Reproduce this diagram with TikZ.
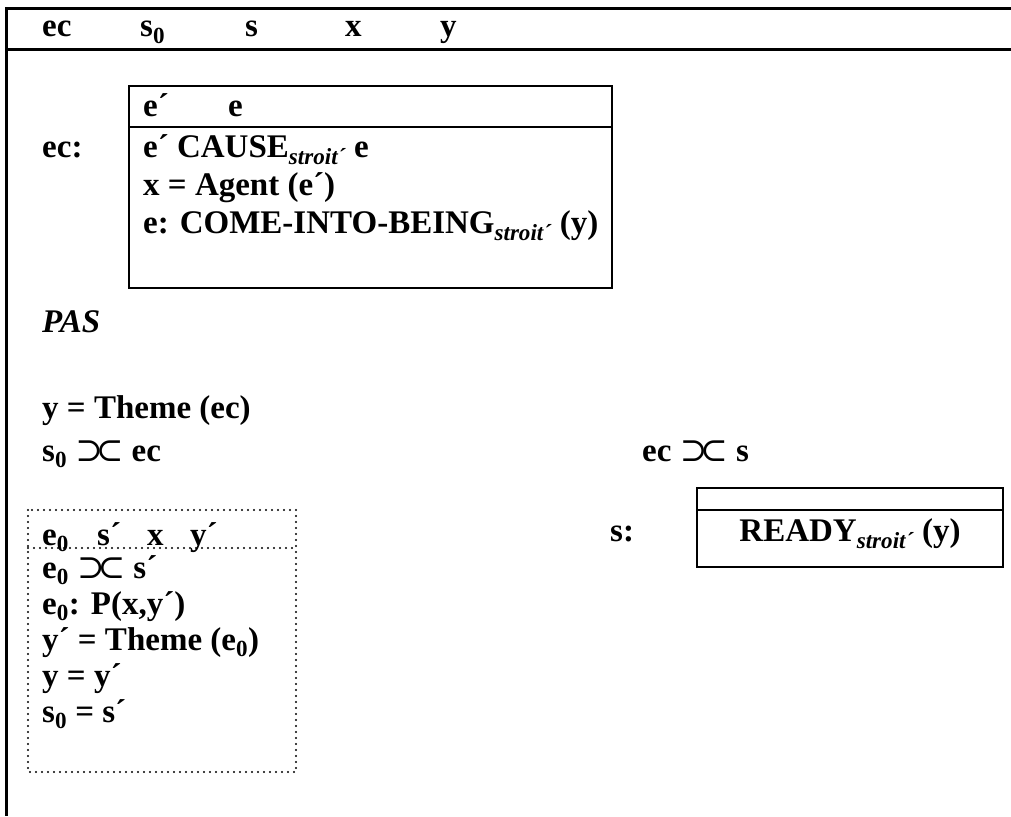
\documentclass[tikz,border=0pt]{standalone}
\usepackage{fontspec}
\setmainfont{Liberation Serif}
\newfontfamily\symfont{DejaVu Serif}
\usepackage{tikz}
\usetikzlibrary{positioning}

\newcommand{\abut}{{\symfont\mdseries ⊃\kern-0.22em⊂}}
\newcommand{\strt}{\textsubscript{\itshape stroit´}}
\newcommand{\zr}{\textsubscript{0}}

\begin{document}
\begin{tikzpicture}[
    x=1pt, y=-1pt,
    txt/.style={anchor=base west, inner sep=0pt, font=\fontsize{33}{38}\selectfont\bfseries},
    frame/.style={line width=3pt},
    drsbox/.style={line width=2.4pt},
    dotbox/.style={line width=2.4pt, line cap=round, dash pattern=on 0pt off 6pt}
]
\useasboundingbox (0,0) rectangle (1011,816);

% outer box, open to the right and below
\draw[frame] (1011,9) -- (6,9) -- (6,816);
\draw[frame] (6,50) -- (1011,50);
\node[txt] (uec) at (42,37) {ec};
\node[txt] (us0) at (140,37) {s\zr};
\node[txt] (us) at (245,37) {s};
\node[txt] (ux) at (345,37) {x};
\node[txt] (uy) at (440,37) {y};

% ec box
\node[txt] (eclab) at (42,157) {ec:};
\draw[drsbox] (129,86) rectangle (612,288);
\draw[drsbox] (129,127) -- (612,127);
\node[txt] (ecu1) at (143,116) {e´};
\node[txt] (ecu2) at (228,116) {e};
\node[txt] (ec1) at (143,157) {e´ CAUSE\strt{} e};
\node[txt] (ec2) at (143,195) {x = Agent (e´)};
\node[txt] (ec3) at (143,233) {e: COME-INTO-BEING\strt{} (y)};

\node[txt, font=\fontsize{33}{38}\selectfont\bfseries\itshape] (pas) at (42,332) {PAS};
\node[txt] (theme) at (42,418) {y = Theme (ec)};
\node[txt] (s0ec) at (42,461) {s\zr{} \abut{} ec};
\node[txt] (ecs) at (642,461) {ec \abut{} s};

% s box
\node[txt] (slab) at (610,541) {s:};
\draw[drsbox] (697,488) rectangle (1003,567);
\draw[drsbox] (697,510) -- (1003,510);
\node[txt, anchor=base] (ready) at (850,541) {READY\strt{} (y)};

% dotted box
\draw[dotbox] (28,510) rectangle (296,772);
\draw[dotbox] (28,548) -- (296,548);
\node[txt] (d0) at (42,545) {e\zr};
\node[txt] (d1) at (97,545) {s´};
\node[txt] (d2) at (147,545) {x};
\node[txt] (d3) at (190,545) {y´};
\node[txt] (l1) at (42,578) {e\zr{} \abut{} s´};
\node[txt] (l2) at (42,614) {e\zr: P(x,y´)};
\node[txt] (l3) at (42,650) {y´ = Theme (e\zr)};
\node[txt] (l4) at (42,686) {y = y´};
\node[txt] (l5) at (42,722) {s\zr{} = s´};
\end{tikzpicture}
\end{document}
